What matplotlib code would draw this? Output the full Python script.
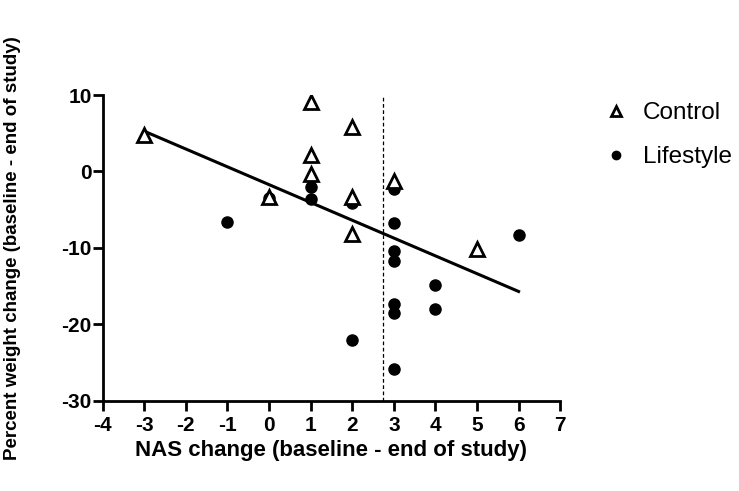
import matplotlib
matplotlib.use("Agg")
import matplotlib.pyplot as plt
import numpy as np

plt.rcParams['font.family'] = ['Liberation Sans', 'DejaVu Sans']
plt.rcParams['axes.unicode_minus'] = False

# Data
control_x = [-3, 0, 1, 1, 1, 2, 2, 2, 3, 5]
control_y = [4.8, -3.3, 9.1, 2.2, -0.4, 5.8, -3.4, -8.2, -1.2, -10.2]
lifestyle_x = [-1, 0, 1, 1, 2, 2, 3, 3, 3, 3, 3, 3, 3, 4, 4, 6]
lifestyle_y = [-6.6, -3.5, -2.0, -3.6, -4.1, -22.0, -2.3, -6.8, -10.4, -11.7,
               -17.3, -18.5, -25.8, -14.8, -18.0, -8.3]
fit_slope = -2.33
fit_intercept = -1.73
fit_range = [-3, 6]
vline_x = 2.73
xticks = list(range(-4, 8))
yticks = [-30, -20, -10, 0, 10]

fig = plt.figure(figsize=(7.39, 4.91), dpi=100)
ax = fig.add_axes([0.139, 0.184, 0.619, 0.6225])

ax.plot(lifestyle_x, lifestyle_y, 'o', color='black', markersize=8,
        label='Lifestyle', zorder=3)
ax.plot(control_x, control_y, '^', markerfacecolor='white', markeredgecolor='black',
        markeredgewidth=2, markersize=10, label='Control', zorder=4)

fx = np.array(fit_range)
ax.plot(fx, fit_slope * fx + fit_intercept, color='black', lw=2.2, zorder=2)
ax.axvline(vline_x, color='black', lw=0.9, ls=(0, (3, 2)), zorder=1)

ax.set_xlim(-4, 7)
ax.set_ylim(-30, 10)
ax.set_xticks(xticks)
ax.set_yticks(yticks)
for s in ['top', 'right']:
    ax.spines[s].set_visible(False)
for s in ['left', 'bottom']:
    ax.spines[s].set_linewidth(2)
ax.tick_params(direction='out', length=7, width=2, labelsize=15)
ax.tick_params(axis='y', pad=1)
ax.tick_params(axis='x', pad=4)
for lbl in ax.get_xticklabels() + ax.get_yticklabels():
    lbl.set_fontweight('bold')

ax.set_xlabel('NAS change (baseline - end of study)', fontsize=16, fontweight='bold', labelpad=4)
ax.set_ylabel('Percent weight change (baseline - end of study)', fontsize=13.5, fontweight='bold')
ax.yaxis.set_label_coords(-0.178, 0.5)

handles, labels = ax.get_legend_handles_labels()
leg = fig.legend(handles[::-1], labels[::-1], loc='upper left', bbox_to_anchor=(0.817, 0.792),
                 frameon=False, fontsize=17.5, handletextpad=0.6, labelspacing=0.9,
                 handlelength=1.0, borderpad=0, borderaxespad=0, markerscale=0.75)

fig.savefig('out.png', dpi=100)
